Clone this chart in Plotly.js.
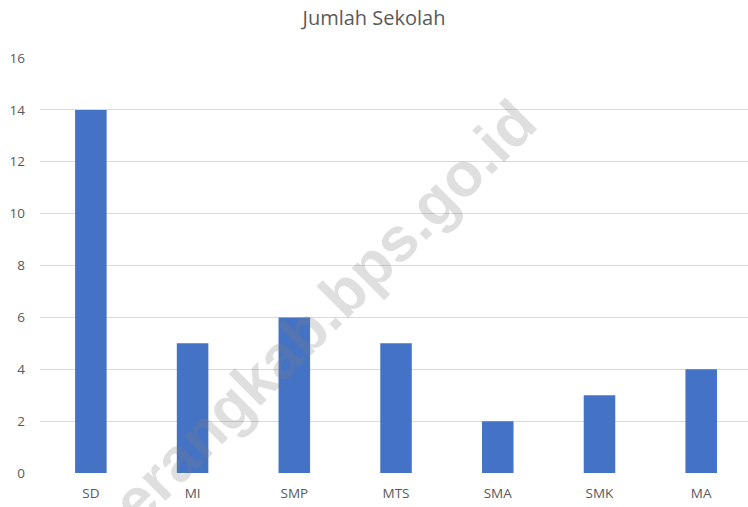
<!DOCTYPE html>
<html>
<head>
<meta charset="utf-8">
<script src="https://cdn.plot.ly/plotly-3.0.1.min.js"></script>
<style>html,body{margin:0;padding:0;background:#fff;}#chart{width:748px;height:507px;}</style>
</head>
<body>
<div id="chart"></div>
<script>
const categories = ["SD", "MI", "SMP", "MTS", "SMA", "SMK", "MA"];
const jumlahSekolah = [14, 5, 6, 5, 2, 3, 4];
const yTicks = [0, 2, 4, 6, 8, 10, 12, 14, 16];
const chartTitle = "Jumlah Sekolah";
const watermarkText = "serangkab.bps.go.id";

const fontFam = "'Open Sans', 'Noto Sans', sans-serif";

Plotly.newPlot("chart", [{
  type: "bar",
  x: categories,
  y: jumlahSekolah,
  marker: {color: "#4472C4"},
  hoverinfo: "x+y"
}], {
  width: 748, height: 507,
  margin: {l: 40, r: 0, t: 58, b: 34},
  paper_bgcolor: "#ffffff",
  plot_bgcolor: "#ffffff",
  bargap: 0.69,
  showlegend: false,
  title: {text: chartTitle, x: 0.5, xanchor: "center", y: 0.965, yanchor: "middle",
          font: {family: fontFam, size: 20, color: "#595959"}},
  xaxis: {range: [-0.5, 6.46], showgrid: false, zeroline: false, showline: false,
          ticks: "", tickfont: {family: fontFam, size: 13.5, color: "#595959"}, ticklabelstandoff: 10},
  yaxis: {range: [0, 16], tickvals: yTicks, showgrid: true, gridcolor: "#d9d9d9", gridwidth: 1,
          zeroline: false, showline: false, ticks: "",
          tickfont: {family: fontFam, size: 13.5, color: "#595959"}, ticklabelstandoff: 14},
  annotations: [{
    text: watermarkText, xref: "paper", yref: "paper", x: 0.383, y: 0.359,
    xanchor: "center", yanchor: "middle", showarrow: false, textangle: -45,
    font: {family: "'Liberation Sans', Arial, sans-serif", size: 62, color: "rgba(128,128,128,0.25)", weight: "bold"}
  }]
}, {displayModeBar: false, staticPlot: true});
</script>
</body>
</html>
